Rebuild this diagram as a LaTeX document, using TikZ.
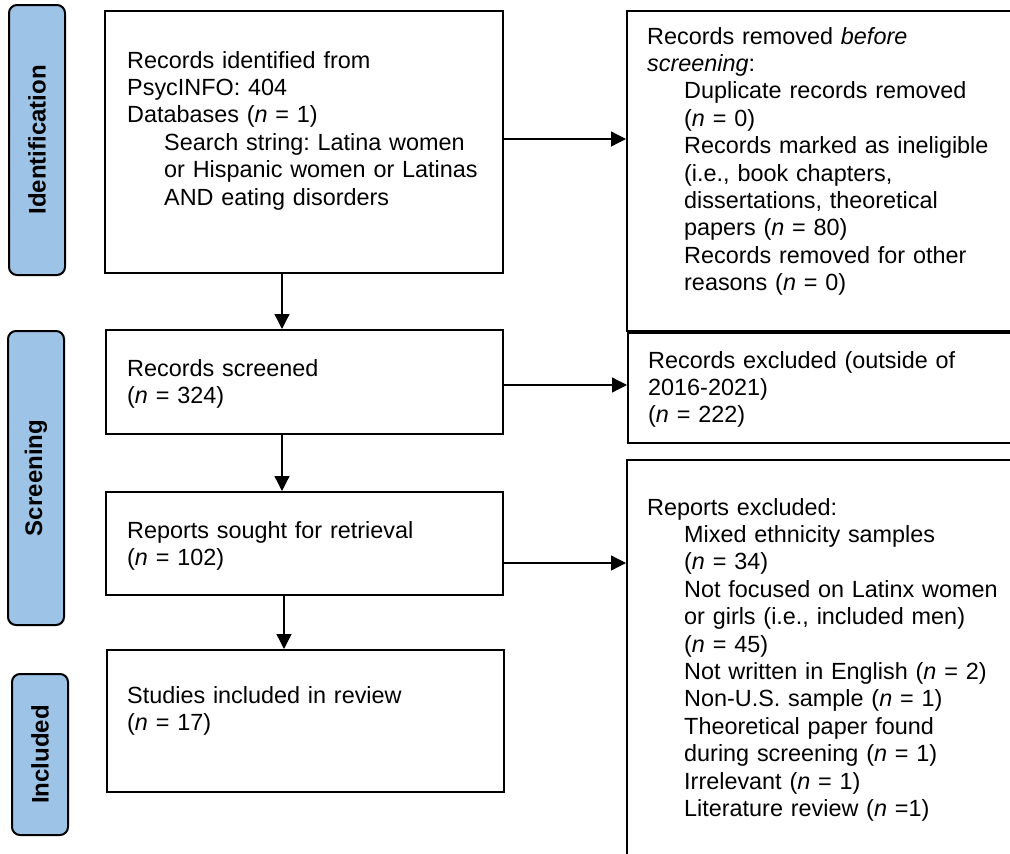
\documentclass[tikz,border=0pt]{standalone}
\usepackage{fontspec}
\setmainfont{Liberation Sans}
\usetikzlibrary{arrows.meta}
\definecolor{lblue}{RGB}{157,195,230}
\newcommand{\nn}{\textit{n}}
\newcommand{\ind}{\hspace*{37pt}}
\frenchspacing
\begin{document}
\begin{tikzpicture}[x=1pt,y=-1pt,
  box/.style={draw=black, line width=2pt, inner sep=0pt, anchor=north west},
  phase/.style={draw=black, line width=2pt, fill=lblue, rounded corners=8pt, rotate=90,
    inner sep=0pt, minimum height=56pt, font=\fontsize{24}{28}\selectfont\bfseries},
  txt/.style={anchor=base west, inner sep=0pt, align=left, text width=#1,
    font=\fontsize{23.4}{27.4}\selectfont\frenchspacing},
  arr/.style={line width=1.3pt, -{Triangle[length=15pt,width=15pt]}}
]
\useasboundingbox (0,0) rectangle (1010,854);
\clip (0,0) rectangle (1010,854);

% phase labels
\node[phase, minimum width=270pt] (p1) at (37,140) {Identification};
\node[phase, minimum width=294pt] (p2) at (36,478) {Screening};
\node[phase, minimum width=161pt] (p3) at (40,754.5) {Included};

% main boxes
\node[box, minimum width=398pt, minimum height=262pt] (b1) at (104,10) {};
\node[box, minimum width=397pt, minimum height=104pt] (b2) at (105,329) {};
\node[box, minimum width=397pt, minimum height=103pt] (b3) at (105,491) {};
\node[box, minimum width=397pt, minimum height=142pt] (b4) at (106,649) {};

% right boxes
\node[box, minimum width=420pt, minimum height=320pt] (r1) at (626,10) {};
\node[box, minimum width=420pt, minimum height=110pt] (r2) at (627,332) {};
\node[box, minimum width=420pt, minimum height=430pt] (r3) at (626,459) {};

% texts
\node[txt=400pt] (t1) at (127,68) {Records identified from\\PsycINFO: 404\\Databases (\nn{} = 1)\\\ind Search string: Latina women\\\ind or Hispanic women or Latinas\\\ind AND eating disorders};
\node[txt=380pt] (t2) at (127,376) {Records screened\\(\nn{} = 324)};
\node[txt=380pt] (t3) at (127,538) {Reports sought for retrieval\\(\nn{} = 102)};
\node[txt=380pt] (t4) at (127,703) {Studies included in review\\(\nn{} = 17)};

\node[txt=400pt] (rt1) at (647,44) {Records removed \textit{before}\\\textit{screening}:\\\ind Duplicate records removed\\\ind (\nn{} = 0)\\\ind Records marked as ineligible\\\ind (i.e., book chapters,\\\ind dissertations, theoretical\\\ind papers (\nn{} = 80)\\\ind Records removed for other\\\ind reasons (\nn{} = 0)};
\node[txt=400pt] (rt2) at (648,368) {Records excluded (outside of\\2016-2021)\\(\nn{} = 222)};
\node[txt=400pt] (rt3) at (647,515) {Reports excluded:\\\ind Mixed ethnicity samples\\\ind (\nn{} = 34)\\\ind Not focused on Latinx women\\\ind or girls (i.e., included men)\\\ind (\nn{} = 45)\\\ind Not written in English (\nn{} = 2)\\\ind Non-U.S. sample (\nn{} = 1)\\\ind Theoretical paper found\\\ind during screening (\nn{} = 1)\\\ind Irrelevant (\nn{} = 1)\\\ind Literature review (\nn{} =1)};

% connectors
\coordinate (c1) at (282,0);
\coordinate (c2) at (284,0);
\coordinate (h1) at (0,139);
\coordinate (h2) at (0,385);
\coordinate (h3) at (0,563);
\draw[arr] (c1 |- b1.south) -- (c1 |- b2.north);
\draw[arr] (c1 |- b2.south) -- (c1 |- b3.north);
\draw[arr] (c2 |- b3.south) -- (c2 |- b4.north);
\draw[arr] (b1.east |- h1) -- (r1.west |- h1);
\draw[arr] (b2.east |- h2) -- (r2.west |- h2);
\draw[arr] (b3.east |- h3) -- (r3.west |- h3);
\end{tikzpicture}
\end{document}
